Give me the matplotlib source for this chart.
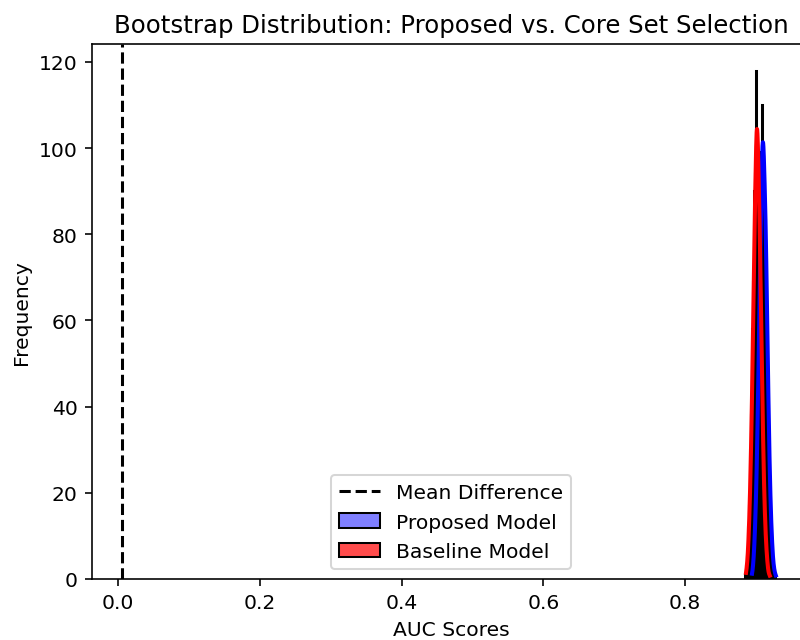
import numpy as np
import matplotlib
matplotlib.use("Agg")
import matplotlib.pyplot as plt
from matplotlib.colors import to_rgba

# Data
bin_width = 0.0014
proposed_start = 0.8935
proposed_counts = [1, 2, 6, 10, 19, 26, 42, 54, 73, 82, 99, 110, 96, 90, 82, 63, 51, 33, 24, 14, 10, 4, 3, 1, 1]
baseline_start = 0.8850
baseline_counts = [1, 3, 5, 12, 17, 30, 38, 58, 69, 90, 94, 118, 97, 95, 77, 68, 46, 37, 21, 16, 8, 6, 2, 1, 1]
mean_difference = 0.006

title = "Bootstrap Distribution: Proposed vs. Core Set Selection"
xlabel = "AUC Scores"
ylabel = "Frequency"


def edges_for(start, counts):
    return start + bin_width * np.arange(len(counts) + 1)


def kde_curve(edges, counts):
    centers = (edges[:-1] + edges[1:]) / 2
    w = np.asarray(counts, float)
    n = w.sum()
    mu = np.sum(centers * w) / n
    sd = np.sqrt(np.sum(w * (centers - mu) ** 2) / n)
    bw = sd * n ** (-1 / 5)
    xs = np.linspace(edges[0] + bin_width / 2, edges[-1] - bin_width / 2, 300)
    dens = np.sum(w[None, :] * np.exp(-0.5 * ((xs[:, None] - centers[None, :]) / bw) ** 2), axis=1)
    dens /= (n * bw * np.sqrt(2 * np.pi))
    return xs, dens * n * bin_width


DPI = 146
fig = plt.figure(figsize=(800 / DPI, 641 / DPI), dpi=DPI)
ax = fig.add_axes([0.115, 0.0952, 0.8975, 0.8348])

ax.axvline(mean_difference, color="black", linestyle="--", linewidth=1.5, label="Mean Difference")

pe = edges_for(proposed_start, proposed_counts)
be = edges_for(baseline_start, baseline_counts)
ax.hist(pe[:-1], bins=pe, weights=proposed_counts, facecolor=to_rgba("blue", 0.5),
        edgecolor="black", linewidth=1, label="Proposed Model")
ax.hist(be[:-1], bins=be, weights=baseline_counts, facecolor=to_rgba("red", 0.7),
        edgecolor="black", linewidth=1, label="Baseline Model")

xs, ys = kde_curve(pe, proposed_counts)
ax.plot(xs, ys, color="blue", linewidth=2)
xs, ys = kde_curve(be, baseline_counts)
ax.plot(xs, ys, color="red", linewidth=2)

ax.set_xlim(-0.0367, 0.976)
ax.set_ylim(0, 124.2)
ax.set_title(title, fontsize=12)
ax.set_xlabel(xlabel)
ax.set_ylabel(ylabel)
ax.legend(loc="lower center")

fig.savefig("out.png", dpi=DPI)
